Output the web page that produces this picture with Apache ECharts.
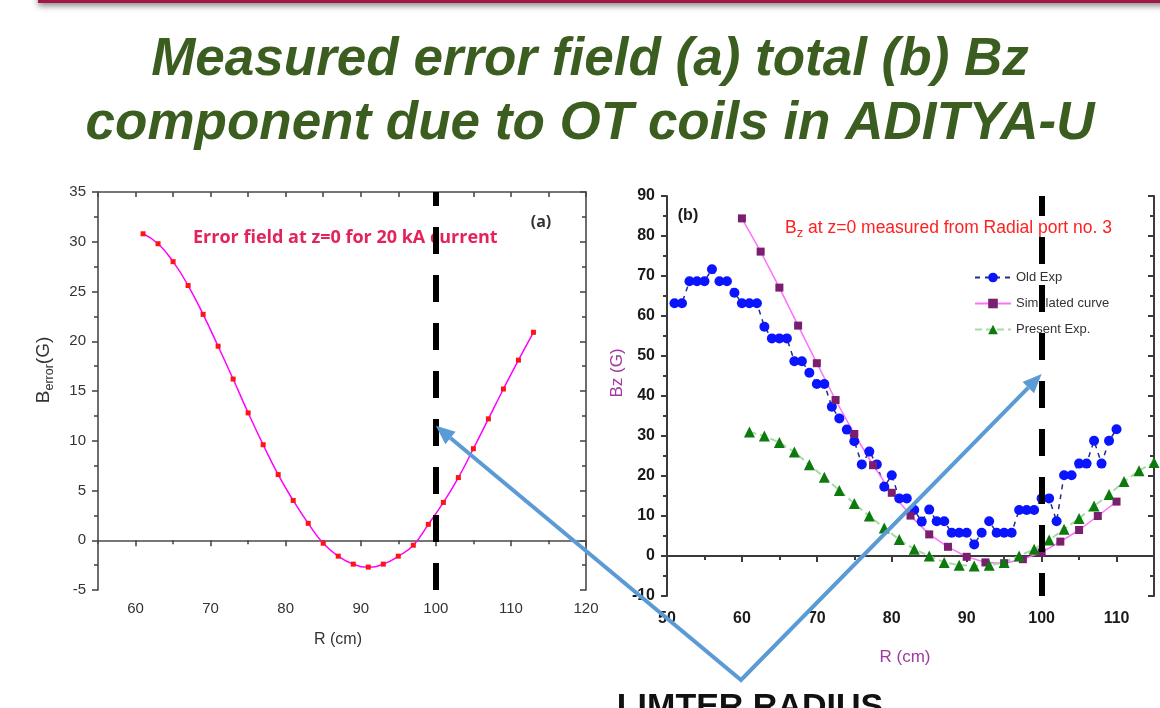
<!DOCTYPE html>
<html>
<head>
<meta charset="utf-8">
<script src="https://cdn.jsdelivr.net/npm/echarts@6/dist/echarts.min.js"></script>
<style>
  html, body { margin: 0; background: #fff; }
  #chart { width: 1160px; height: 708px; }
</style>
</head>
<body>
<div id="chart"></div>
<script>
// (a) total error field vs R
const rTotal = [61, 63, 65, 67, 69, 71, 73, 75, 77, 79, 81, 83, 85, 87, 89, 91, 93, 95, 97, 99, 101, 103, 105, 107, 109, 111, 113];
const bTotal = [30.8, 29.8, 28.0, 25.6, 22.7, 19.5, 16.2, 12.8, 9.6, 6.6, 4.0, 1.7, -0.3, -1.6, -2.4, -2.7, -2.4, -1.6, -0.5, 1.6, 3.8, 6.3, 9.2, 12.2, 15.2, 18.1, 20.9];

// (b) Bz component vs R
const rOld = [51, 52, 53, 54, 55, 56, 57, 58, 59, 60, 61, 62, 63, 64, 65, 66, 67, 68, 69, 70,
              71, 72, 73, 74, 75, 76, 77, 78, 79, 80, 81, 82, 83, 84, 85, 86, 87, 88, 89, 90,
              91, 92, 93, 94, 95, 96, 97, 98, 99, 100, 101, 102, 103, 104, 105, 106, 107, 108, 109, 110];
const bzOld = [63.2, 63.2, 68.7, 68.7, 68.7, 71.7, 68.7, 68.7, 65.8, 63.2, 63.2, 63.2, 57.3, 54.4, 54.4, 54.4, 48.7, 48.7, 45.8, 43.0,
               43.0, 37.3, 34.4, 31.6, 28.7, 22.9, 26.1, 22.9, 17.3, 20.2, 14.4, 14.4, 11.5, 8.6, 11.6, 8.7, 8.7, 5.8, 5.8, 5.8,
               2.9, 5.8, 8.7, 5.8, 5.8, 5.8, 11.5, 11.5, 11.5, 14.4, 14.4, 8.7, 20.2, 20.2, 23.1, 23.1, 28.8, 23.1, 28.8, 31.7];
const rSim = [60, 62.5, 65, 67.5, 70, 72.5, 75, 77.5, 80, 82.5, 85, 87.5, 90, 92.5, 95, 97.5, 100, 102.5, 105, 107.5, 110];
const bzSim = [84.4, 76.1, 67.1, 57.6, 48.2, 39.0, 30.5, 22.7, 15.8, 10.1, 5.4, 2.3, -0.2, -1.6, -1.8, -0.8, 0.9, 3.6, 6.5, 10.0, 13.6];
const rPresent = [61, 63, 65, 67, 69, 71, 73, 75, 77, 79, 81, 83, 85, 87, 89, 91, 93, 95, 97, 99, 101, 103, 105, 107, 109, 111, 113, 115];
const bzPresent = [31.0, 30.0, 28.4, 26.0, 22.8, 19.7, 16.4, 13.1, 10.0, 7.0, 4.1, 1.7, 0.0, -1.6, -2.3, -2.5, -2.3, -1.6, 0.0, 1.7, 4.0, 6.7, 9.4, 12.5, 15.4, 18.6, 21.3, 23.4];

// tick values for panel (a) x axis (min 55 is not on the 10 grid)
const xLabelsA = [60, 70, 80, 90, 100, 110, 120];
const xMinorA = [55, 65, 75, 85, 95, 105, 115];
const xAllA = [55, 60, 65, 70, 75, 80, 85, 90, 95, 100, 105, 110, 115, 120];

const limiterR = 100;

const FONT = '"Liberation Sans", Arial, sans-serif';
const zip = (xs, ys) => xs.map((x, i) => [x, ys[i]]);

const axA = { color: '#4a4a4a', width: 1.6 };
const axB = { color: '#3a3a3a', width: 2 };

const chart = echarts.init(document.getElementById('chart'), null, { renderer: 'canvas' });

chart.setOption({
  animation: false,
  backgroundColor: '#ffffff',
  grid: [
    { left: 98, top: 192, width: 488, height: 398 },
    { left: 667, top: 196, width: 487, height: 400 }
  ],
  xAxis: [
    { gridIndex: 0, type: 'value', min: 55, max: 120, position: 'bottom',
      axisLine: { lineStyle: axA }, splitLine: { show: false },
      axisTick: { customValues: xLabelsA, length: 6, lineStyle: axA },
      axisLabel: { customValues: xLabelsA, color: '#333', fontSize: 15, fontFamily: FONT, margin: 11 } },
    { gridIndex: 0, type: 'value', min: 55, max: 120, position: 'bottom',
      axisLine: { show: false }, splitLine: { show: false },
      axisTick: { customValues: xMinorA, length: 4, lineStyle: axA },
      axisLabel: { show: false } },
    { gridIndex: 0, type: 'value', min: 55, max: 120, position: 'top',
      axisLine: { lineStyle: axA }, splitLine: { show: false },
      axisTick: { customValues: xAllA, inside: true, length: 5, lineStyle: axA },
      axisLabel: { show: false } },
    { gridIndex: 1, type: 'value', min: 50, max: 115, interval: 10, position: 'bottom',
      axisLine: { lineStyle: axB }, splitLine: { show: false },
      axisTick: { length: 6, lineStyle: axB },
      minorTick: { show: true, splitNumber: 2, length: 4, lineStyle: axB },
      axisLabel: { color: '#1a1a1a', fontSize: 16, fontWeight: 'bold', fontFamily: FONT, margin: 15,
        showMaxLabel: false, formatter: v => (v % 10 === 0 ? String(v) : '') } },
    { gridIndex: 1, type: 'value', min: 50, max: 115, interval: 10, position: 'top',
      axisLine: { lineStyle: axB }, splitLine: { show: false },
      axisTick: { inside: true, length: 5, lineStyle: axB },
      minorTick: { show: true, splitNumber: 2, length: 4, lineStyle: axB },
      axisLabel: { show: false } }
  ],
  yAxis: [
    { gridIndex: 0, type: 'value', min: -5, max: 35, interval: 5, position: 'left',
      axisLine: { show: true, lineStyle: axA }, splitLine: { show: false },
      axisTick: { show: true, length: 6, lineStyle: axA },
      minorTick: { show: true, splitNumber: 2, length: 4, lineStyle: axA },
      axisLabel: { color: '#333', fontSize: 15, fontFamily: FONT, margin: 12 } },
    { gridIndex: 0, type: 'value', min: -5, max: 35, interval: 5, position: 'right',
      axisLine: { show: true, lineStyle: axA }, splitLine: { show: false },
      axisTick: { show: true, inside: true, length: 6, lineStyle: axA },
      minorTick: { show: true, splitNumber: 2, length: 4, lineStyle: axA },
      axisLabel: { show: false } },
    { gridIndex: 1, type: 'value', min: -10, max: 90, interval: 10, position: 'left',
      axisLine: { show: true, lineStyle: axB }, splitLine: { show: false },
      axisTick: { show: true, length: 6, lineStyle: axB },
      minorTick: { show: true, splitNumber: 2, length: 4, lineStyle: axB },
      axisLabel: { color: '#1a1a1a', fontSize: 16, fontWeight: 'bold', fontFamily: FONT, margin: 12 } },
    { gridIndex: 1, type: 'value', min: -10, max: 90, interval: 10, position: 'right',
      axisLine: { show: true, lineStyle: axB }, splitLine: { show: false },
      axisTick: { show: true, inside: true, length: 6, lineStyle: axB },
      minorTick: { show: true, splitNumber: 2, length: 4, lineStyle: axB },
      axisLabel: { show: false } }
  ],
  legend: {
    data: ['Old Exp', 'Simulated curve', 'Present Exp.'],
    orient: 'vertical', left: 969, top: 266,
    itemWidth: 36, itemHeight: 12, itemGap: 13,
    textStyle: { color: '#333', fontSize: 13, fontFamily: FONT }
  },
  series: [
    { name: 'Error field', type: 'line', xAxisIndex: 0, yAxisIndex: 0,
      data: zip(rTotal, bTotal), smooth: true,
      symbol: 'rect', symbolSize: 5,
      itemStyle: { color: '#ff1414' },
      lineStyle: { color: '#ff00ff', width: 1.5 } },
    { name: 'limiterA', type: 'line', xAxisIndex: 0, yAxisIndex: 0, data: [], z: 10,
      markLine: { silent: true, symbol: 'none', label: { show: false },
        lineStyle: { color: '#000', width: 6, type: [27, 21] },
        data: [{ xAxis: limiterR }] } },
    { name: 'Old Exp', type: 'line', xAxisIndex: 3, yAxisIndex: 2,
      data: zip(rOld, bzOld),
      symbol: 'circle', symbolSize: 10,
      itemStyle: { color: '#0a14ff' },
      lineStyle: { color: '#2a2a8c', width: 1.5, type: [5, 5] } },
    { name: 'Simulated curve', type: 'line', xAxisIndex: 3, yAxisIndex: 2,
      data: zip(rSim, bzSim),
      symbol: 'rect', symbolSize: 8,
      itemStyle: { color: '#7a1e6e' },
      lineStyle: { color: '#ff70ff', width: 1.5 } },
    { name: 'Present Exp.', type: 'line', xAxisIndex: 3, yAxisIndex: 2,
      data: zip(rPresent, bzPresent),
      symbol: 'triangle', symbolSize: 11,
      itemStyle: { color: '#0d7a0d' },
      lineStyle: { color: '#a6dba6', width: 2, type: [7, 4] } },
    { name: 'limiterB', type: 'line', xAxisIndex: 3, yAxisIndex: 2, data: [], z: 10,
      markLine: { silent: true, symbol: 'none', label: { show: false },
        lineStyle: { color: '#000', width: 6, type: [27, 21], dashOffset: 4 },
        data: [{ xAxis: limiterR }] } }
  ]
});

// arrows pointing at the limiter radius in both panels
const tipA = chart.convertToPixel({ gridIndex: 0 }, [limiterR, 11.5]);
const tipB = chart.convertToPixel({ gridIndex: 1 }, [limiterR, 45.5]);
const vertex = [741, 680];
const ARROW = '#5b9bd5';

function head(tip, from) {
  const dx = tip[0] - from[0], dy = tip[1] - from[1];
  const l = Math.hypot(dx, dy), ux = dx / l, uy = dy / l;
  const base = [tip[0] - ux * 19, tip[1] - uy * 19];
  const w = 8;
  return {
    base,
    pts: [tip, [base[0] - uy * w, base[1] + ux * w], [base[0] + uy * w, base[1] - ux * w]]
  };
}
const hA = head(tipA, vertex);
const hB = head(tipB, vertex);

chart.setOption({
  graphic: [
    { type: 'rect', shape: { x: 38, y: -8, width: 1130, height: 11 }, z: 1,
      style: { fill: '#a3164a', shadowBlur: 6, shadowOffsetY: 3, shadowColor: 'rgba(0,0,0,0.45)' } },
    { type: 'text', x: 590, y: 60, z: 1,
      style: { text: 'Measured error field (a) total (b) Bz', fill: '#3b5e20',
        font: 'italic bold 53px "Liberation Sans", Arial, sans-serif', align: 'center', verticalAlign: 'middle' } },
    { type: 'text', x: 590, y: 124, z: 1,
      style: { text: 'component due to OT coils in ADITYA-U', fill: '#3b5e20',
        font: 'italic bold 53px "Liberation Sans", Arial, sans-serif', align: 'center', verticalAlign: 'middle' } },
    { type: 'text', x: 193, y: 238, z: 1,
      style: { text: 'Error field at z=0 for 20 kA current', fill: '#e3245a',
        font: 'bold 18px "Open Sans", sans-serif', align: 'left', verticalAlign: 'middle' } },
    { type: 'text', x: 541, y: 222, z: 1,
      style: { text: '(a)', fill: '#333', font: 'bold 16px "Open Sans", sans-serif', align: 'center', verticalAlign: 'middle' } },
    { type: 'text', x: 688, y: 216, z: 1,
      style: { text: '(b)', fill: '#1a1a1a', font: 'bold 16px "Liberation Sans", Arial, sans-serif', align: 'center', verticalAlign: 'middle' } },
    { type: 'text', x: 785, y: 228, z: 1,
      style: { text: '{b|B}{s|z}{t| at z=0 measured from Radial port no. 3}', align: 'left', verticalAlign: 'middle',
        rich: {
          b: { fontSize: 17.5, fontFamily: FONT, fill: '#ff2020', color: '#ff2020', lineHeight: 24 },
          s: { fontSize: 13, fontFamily: FONT, fill: '#ff2020', color: '#ff2020', lineHeight: 24, verticalAlign: 'bottom' },
          t: { fontSize: 17.5, fontFamily: FONT, fill: '#ff2020', color: '#ff2020', lineHeight: 24 }
        } } },
    { type: 'text', x: 44, y: 370, rotation: Math.PI / 2, z: 1,
      style: { text: '{b|B}{s|error}{b|(G)}', align: 'center', verticalAlign: 'middle',
        rich: {
          b: { fontSize: 19, fontFamily: FONT, color: '#333', fill: '#333', lineHeight: 24 },
          s: { fontSize: 12.5, fontFamily: FONT, color: '#333', fill: '#333', lineHeight: 24, verticalAlign: 'bottom' }
        } } },
    { type: 'text', x: 617, y: 373, rotation: Math.PI / 2, z: 1,
      style: { text: 'Bz (G)', fill: '#a03aa0', font: '17px "Liberation Sans", Arial, sans-serif', align: 'center', verticalAlign: 'middle' } },
    { type: 'text', x: 338, y: 640, z: 1,
      style: { text: 'R (cm)', fill: '#333', font: '16px "Liberation Sans", Arial, sans-serif', align: 'center', verticalAlign: 'middle' } },
    { type: 'text', x: 905, y: 657, z: 1,
      style: { text: 'R (cm)', fill: '#a03aa0', font: '17px "Liberation Sans", Arial, sans-serif', align: 'center', verticalAlign: 'middle' } },
    { type: 'text', x: 750, y: 725, z: 1,
      style: { text: 'LIMTER RADIUS', fill: '#111', font: 'bold 34px "Liberation Sans", Arial, sans-serif', align: 'center', verticalAlign: 'bottom' } },
    { type: 'polyline', z: 100,
      shape: { points: [hA.base, vertex, hB.base] },
      style: { stroke: ARROW, lineWidth: 4, fill: null, lineJoin: 'miter' } },
    { type: 'polygon', z: 100, shape: { points: hA.pts }, style: { fill: ARROW } },
    { type: 'polygon', z: 100, shape: { points: hB.pts }, style: { fill: ARROW } }
  ]
});
</script>
</body>
</html>
